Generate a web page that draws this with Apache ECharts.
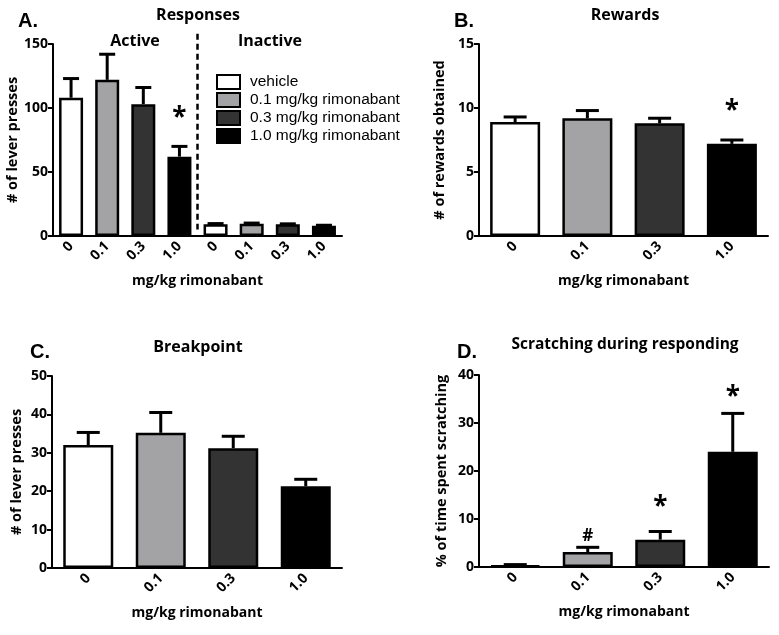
<!DOCTYPE html>
<html><head><meta charset="utf-8">
<script src="https://cdn.jsdelivr.net/npm/echarts@6/dist/echarts.min.js"></script>
<style>html,body{margin:0;padding:0;background:#fff}#c{width:779px;height:635px}</style>
</head><body><div id="c"></div>
<script>
// ---- data ----
const doseLabels = ['0', '0.1', '0.3', '1.0'];
const doseNames = ['vehicle', '0.1 mg/kg rimonabant', '0.3 mg/kg rimonabant', '1.0 mg/kg rimonabant'];
const respCategories = ['0', '0.1', '0.3', '1.0', '0', '0.1', '0.3', '1.0'];
const respActive = [108, 122, 103, 62];
const respActiveSem = [15, 20, 13, 8];
const respInactive = [9.2, 9.6, 9.1, 8.0];
const respInactiveSem = [0.5, 0.5, 0.4, 0.4];
const rewards = [8.9, 9.2, 8.8, 7.2];
const rewardsSem = [0.4, 0.6, 0.4, 0.3];
const breakpoint = [32.0, 35.2, 31.2, 21.3];
const breakpointSem = [3.3, 5.3, 3.1, 1.8];
const scratching = [0.3, 3.1, 5.7, 24.0];
const scratchingSem = [0.2, 1.0, 1.7, 8.0];
// significance markers: [category index, y value, text]
const marksA = [[3, 91.5, '*']];
const marksB = [[3, 9.7, '*']];
const marksD = [[1, 6.4, '#'], [2, 12.4, '*'], [3, 35.2, '*']];

// ---- style ----
const fills = ['#ffffff', '#a3a3a6', '#333333', '#000000'];
const BOLD = '"Open Sans", sans-serif';

const chart = echarts.init(document.getElementById('c'), null, {renderer: 'canvas'});

function xAxisCfg(gi, cats) {
  return {
    type: 'category', gridIndex: gi, data: cats,
    name: 'mg/kg rimonabant', nameLocation: 'middle', nameGap: 38,
    nameTextStyle: {fontFamily: BOLD, fontWeight: 'bold', fontSize: 14, color: '#000'},
    axisLine: {lineStyle: {color: '#000', width: 2}},
    axisTick: {alignWithLabel: true, length: 6, lineStyle: {color: '#000', width: 2}},
    axisLabel: {rotate: 45, fontFamily: BOLD, fontWeight: 'bold', fontSize: 14, color: '#000', margin: 8}
  };
}
function yAxisCfg(gi, max, interval, name, gap) {
  return {
    type: 'value', gridIndex: gi, min: 0, max: max, interval: interval,
    name: name, nameLocation: 'middle', nameGap: gap,
    nameTextStyle: {fontFamily: BOLD, fontWeight: 'bold', fontSize: 14.5, color: '#000'},
    splitLine: {show: false},
    axisLine: {show: true, lineStyle: {color: '#000', width: 2}},
    axisTick: {show: true, length: 5, lineStyle: {color: '#000', width: 2}},
    axisLabel: {fontFamily: BOLD, fontWeight: 'bold', fontSize: 14, color: '#000', margin: 5}
  };
}
function errSeries(gi, means, sems, capW) {
  return {
    type: 'custom', xAxisIndex: gi, yAxisIndex: gi, z: 1,
    encode: {x: 0, y: [1, 2]},
    data: means.map((m, i) => [i, m, m + sems[i]]),
    renderItem: (params, api) => {
      const x = api.value(0);
      const b = api.coord([x, api.value(1)]);
      const t = api.coord([x, api.value(2)]);
      const st = {stroke: '#000', lineWidth: 3};
      return {type: 'group', children: [
        {type: 'line', shape: {x1: b[0], y1: b[1], x2: t[0], y2: t[1]}, style: st},
        {type: 'line', shape: {x1: t[0] - capW / 2, y1: t[1], x2: t[0] + capW / 2, y2: t[1]}, style: st}
      ]};
    }
  };
}
function markSeries(gi, marks) {
  return {
    type: 'custom', xAxisIndex: gi, yAxisIndex: gi, clip: false, z: 5,
    data: marks.map(m => [m[0], m[1]]),
    renderItem: (params, api) => {
      const p = api.coord([api.value(0), api.value(1)]);
      const txt = marks[params.dataIndex][2];
      return {type: 'text', x: p[0], y: p[1], style: {
        text: txt, textAlign: 'center', textVerticalAlign: 'middle',
        font: txt === '*' ? 'bold 26px "Open Sans"' : 'bold 17px "Open Sans"', fill: '#000'}};
    }
  };
}
function barSeries(gi, vals, width) {
  return {
    type: 'bar', xAxisIndex: gi, yAxisIndex: gi, barWidth: width, z: 2,
    data: vals.map((v, i) => ({value: v, itemStyle: {color: fills[i]}})),
    itemStyle: {borderColor: '#000', borderWidth: 2.5}
  };
}

const series = [];
// Panel A: one series per dose, active + inactive
doseNames.forEach((nm, d) => {
  const arr = respCategories.map(() => '-');
  arr[d] = respActive[d];
  arr[d + 4] = respInactive[d];
  series.push({
    type: 'bar', name: nm, xAxisIndex: 0, yAxisIndex: 0, barWidth: 24, barGap: '-100%', z: 2,
    data: arr, itemStyle: {color: fills[d], borderColor: '#000', borderWidth: 2.5}
  });
});
series.push(errSeries(0, respActive.concat(respInactive), respActiveSem.concat(respInactiveSem), 16));
series.push(markSeries(0, marksA));
// dashed divider between Active and Inactive
series.push({
  type: 'custom', xAxisIndex: 0, yAxisIndex: 0, clip: false, z: 3,
  data: [[3, 5, 158]],
  renderItem: (params, api) => {
    const c0 = api.coord([api.value(0), api.value(1)]);
    const c1 = api.coord([api.value(0), api.value(2)]);
    const w = api.size([1, 0])[0];
    const x = c0[0] + w / 2;
    return {type: 'line', shape: {x1: x, y1: c1[1], x2: x, y2: c0[1]},
      style: {stroke: '#000', lineWidth: 2.5, lineDash: [6, 4]}};
  }
});
// Panel B
series.push(barSeries(1, rewards, 50));
series.push(errSeries(1, rewards, rewardsSem, 23));
series.push(markSeries(1, marksB));
// Panel C
series.push(barSeries(2, breakpoint, 50));
series.push(errSeries(2, breakpoint, breakpointSem, 23));
// Panel D
series.push(barSeries(3, scratching, 50));
series.push(errSeries(3, scratching, scratchingSem, 23));
series.push(markSeries(3, marksD));

function txt(x, y, s, size, family, weight) {
  return {type: 'text', x: x, y: y, style: {text: s, textAlign: 'center', textVerticalAlign: 'middle',
    font: (weight || 'bold') + ' ' + size + 'px ' + (family || '"Open Sans"'), fill: '#000'}};
}

chart.setOption({
  animation: false,
  backgroundColor: '#fff',
  grid: [
    {left: 53, top: 44, width: 289, height: 192},
    {left: 479, top: 44, width: 289, height: 192},
    {left: 52, top: 376, width: 290, height: 192},
    {left: 479, top: 375, width: 290, height: 192}
  ],
  xAxis: [xAxisCfg(0, respCategories), xAxisCfg(1, doseLabels), xAxisCfg(2, doseLabels), xAxisCfg(3, doseLabels)],
  yAxis: [
    yAxisCfg(0, 150, 50, '# of lever presses', 28),
    yAxisCfg(1, 15, 5, '# of rewards obtained', 32),
    yAxisCfg(2, 50, 10, '# of lever presses', 28),
    yAxisCfg(3, 40, 10, '% of time spent scratching', 30)
  ],
  legend: {
    orient: 'vertical', left: 211, top: 69, itemWidth: 23, itemHeight: 14, itemGap: 2,
    icon: 'rect', data: doseNames,
    itemStyle: {borderColor: '#000', borderWidth: 2},
    textStyle: {fontFamily: '"Liberation Sans", Arial, sans-serif', fontSize: 15.5, lineHeight: 16, color: '#000', padding: [0, 0, 0, 5]}
  },
  graphic: [
    txt(28, 21, 'A.', 20, '"Liberation Sans"'),
    txt(464, 21, 'B.', 20, '"Liberation Sans"'),
    txt(40, 352, 'C.', 20, '"Liberation Sans"'),
    txt(467, 352, 'D.', 20, '"Liberation Sans"'),
    txt(198, 15, 'Responses', 16),
    txt(625, 15, 'Rewards', 16),
    txt(198, 347, 'Breakpoint', 16),
    txt(625, 345, 'Scratching during responding', 15.5),
    txt(135, 41, 'Active', 16),
    txt(270, 41, 'Inactive', 16)
  ],
  series: series
});
</script>
</body></html>
